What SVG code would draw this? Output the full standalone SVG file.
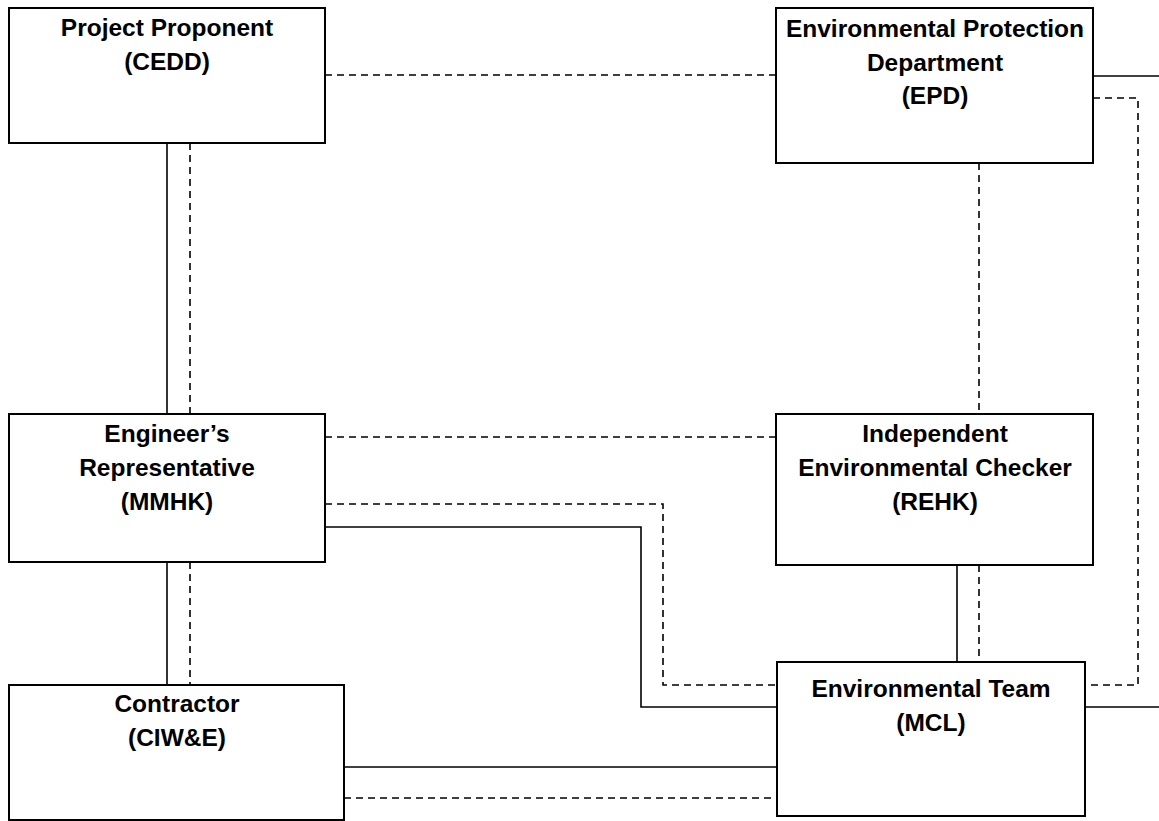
<svg xmlns="http://www.w3.org/2000/svg" width="1159" height="821" viewBox="0 0 1159 821">
<style>
.box{fill:#fff;stroke:#000;stroke-width:2}
.lbl{font-family:"Liberation Sans",Arial,sans-serif;font-weight:bold;font-size:24.5px;fill:#000;text-anchor:middle}
.solid{fill:none;stroke:#000;stroke-width:1.6}
.dash{fill:none;stroke:#000;stroke-width:1.6;stroke-dasharray:7 5}
</style>
<rect width="1159" height="821" fill="#fff"/>
<g id="connectors">
<path class="solid" d="M167 143V414"/>
<path class="solid" d="M167 562V685"/>
<path class="solid" d="M325 527H641V707H777"/>
<path class="solid" d="M957 565V662"/>
<path class="solid" d="M344 767H777"/>
<path class="solid" d="M1093 76H1159"/>
<path class="solid" d="M1085 707H1159"/>
<path class="dash" d="M325 75H776"/>
<path class="dash" d="M190 143V414"/>
<path class="dash" d="M190 562V685"/>
<path class="dash" d="M325 437H776"/>
<path class="dash" d="M325 504H663V685H777"/>
<path class="dash" d="M979 163V414"/>
<path class="dash" d="M979 565V662"/>
<path class="dash" d="M1093 98H1138V685H1085"/>
<path class="dash" d="M344 798H777"/>
</g>
<g id="project-proponent">
<rect class="box" x="9" y="8" width="316" height="135"/>
<text class="lbl" x="167" y="36">Project Proponent</text>
<text class="lbl" x="167" y="70">(CEDD)</text>
</g>
<g id="epd">
<rect class="box" x="776" y="8" width="317" height="155"/>
<text class="lbl" x="935" y="37">Environmental Protection</text>
<text class="lbl" x="935" y="71">Department</text>
<text class="lbl" x="935" y="104">(EPD)</text>
</g>
<g id="engineers-rep">
<rect class="box" x="9" y="414" width="316" height="148"/>
<text class="lbl" x="167" y="442">Engineer’s</text>
<text class="lbl" x="167" y="476">Representative</text>
<text class="lbl" x="167" y="510">(MMHK)</text>
</g>
<g id="iec">
<rect class="box" x="776" y="414" width="317" height="151"/>
<text class="lbl" x="935" y="442">Independent</text>
<text class="lbl" x="935" y="476">Environmental Checker</text>
<text class="lbl" x="935" y="510">(REHK)</text>
</g>
<g id="contractor">
<rect class="box" x="9" y="685" width="335" height="135"/>
<text class="lbl" x="177" y="712">Contractor</text>
<text class="lbl" x="177" y="746">(CIW&amp;E)</text>
</g>
<g id="environmental-team">
<rect class="box" x="777" y="662" width="308" height="154"/>
<text class="lbl" x="931" y="697">Environmental Team</text>
<text class="lbl" x="931" y="731">(MCL)</text>
</g>
</svg>
